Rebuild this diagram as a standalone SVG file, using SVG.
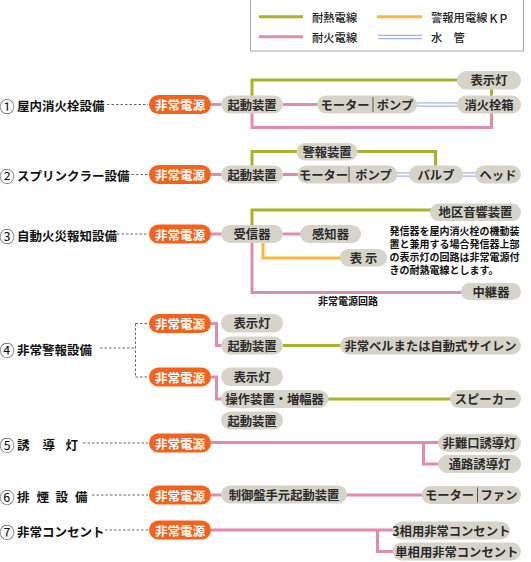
<svg xmlns="http://www.w3.org/2000/svg" width="531" height="562" viewBox="0 0 531 562">
<style>
text{font-family:"Noto Sans CJK JP","Noto Sans",sans-serif;dominant-baseline:central;fill:#2b2b2b}
.lbl{font-size:12.5px;font-weight:bold;fill:#111}
.cn{font-size:15px;font-weight:normal}
.nt{font-size:12.3px;font-weight:bold;text-anchor:middle}
.pt{font-size:12.5px;font-weight:bold;text-anchor:middle;fill:#fff}
.lg{font-size:11.3px;font-weight:500;fill:#222}
.note{font-size:10px;font-weight:bold;fill:#111}
.g{fill:#d6d4c8}
.o{fill:#f5621b}
.pk{fill:none;stroke:#e28bae;stroke-width:3}
.ol{fill:none;stroke:#a8b22b;stroke-width:3}
.or{fill:none;stroke:#fbb63c;stroke-width:3}
.wb{fill:none;stroke:#a5b4e6;stroke-width:4.5}
.ww{fill:none;stroke:#fff;stroke-width:2}
.ds{fill:none;stroke:#666;stroke-width:1;stroke-dasharray:2.5,2}
.dv{stroke:#555;stroke-width:1}
</style>

<g id="legend">
<rect x="250.5" y="-1" width="273" height="52" fill="#fff" stroke="#aaa" stroke-width="1"/>
<line x1="259" y1="16.7" x2="303" y2="16.7" class="ol"/>
<text x="312" y="17" class="lg">耐熱電線</text>
<line x1="377" y1="16.7" x2="422" y2="16.7" class="or"/>
<text x="431" y="17" class="lg">警報用電線<tspan font-size="12" letter-spacing="2" dx="2">KP</tspan></text>
<line x1="259" y1="36.7" x2="303" y2="36.7" class="pk"/>
<text x="312" y="37" class="lg">耐火電線</text>
<line x1="378" y1="37" x2="422" y2="37" class="wb"/>
<line x1="378" y1="37" x2="422" y2="37" class="ww"/>
<text x="431" y="37" class="lg">水　管</text>
</g>

<g id="connectors">
<!-- row1 -->
<path class="ds" d="M107 104.5H148"/>
<path class="pk" d="M211 104.5H222M283 104.5H318M252 113V127.5H491.5V113"/>
<path class="ol" d="M252 96V80H458M491.5 89V96"/>
<path class="wb" d="M417 104.5H458"/><path class="ww" d="M417 104.5H458"/>
<!-- row2 -->
<path class="ds" d="M118 174.5H148"/>
<path class="pk" d="M211 174.5H222M283 174.5H298"/>
<path class="ol" d="M252 166V151.5H297M357 151.5H435.5V166"/>
<path class="wb" d="M397 174.5H410M462 174.5H476"/><path class="ww" d="M397 174.5H410M462 174.5H476"/>
<!-- row3 -->
<path class="ds" d="M117 234H148"/>
<path class="pk" d="M211 234H222M283 234H301M252 243V292.5H462"/>
<path class="ol" d="M252 225V210H431"/>
<path class="or" d="M263 243V258H341"/>
<!-- row4 -->
<path class="ds" d="M100 348H135.5M135.5 323.5V377M135.5 323.5H148M135.5 377H148"/>
<path class="pk" d="M211 323.5H216.5V345.5H222M211 377H216.5V399H222"/>
<path class="ol" d="M283 345.5H341M328 399H451"/>
<!-- row5 -->
<path class="ds" d="M83 443H148"/>
<path class="pk" d="M211 442.5H439M423.5 442.5V464H439"/>
<!-- row6 -->
<path class="ds" d="M92 495H148"/>
<path class="pk" d="M211 495H222M346 495H423"/>
<!-- row7 -->
<path class="ds" d="M105 530H148"/>
<path class="pk" d="M211 530H393M377.5 530V551.5H393"/>
</g>

<g id="labels">
<text class="lbl" y="104.5"><tspan x="-0.5" class="cn">①</tspan><tspan x="17">屋内消火栓設備</tspan></text>
<text class="lbl" y="174.5"><tspan x="-0.5" class="cn">②</tspan><tspan x="17">スプリンクラー設備</tspan></text>
<text class="lbl" y="234.5"><tspan x="-0.5" class="cn">③</tspan><tspan x="17">自動火災報知設備</tspan></text>
<text class="lbl" y="348.5"><tspan x="-0.5" class="cn">④</tspan><tspan x="17">非常警報設備</tspan></text>
<text class="lbl" y="443.5"><tspan x="-0.5" class="cn">⑤</tspan><tspan x="17">誘</tspan><tspan x="42.5">導</tspan><tspan x="65.5">灯</tspan></text>
<text class="lbl" y="495.5"><tspan x="-0.5" class="cn">⑥</tspan><tspan x="17">排</tspan><tspan x="36.5">煙</tspan><tspan x="55.5">設</tspan><tspan x="75">備</tspan></text>
<text class="lbl" y="530.5"><tspan x="-0.5" class="cn">⑦</tspan><tspan x="17">非常コンセント</tspan></text>
</g>

<g id="power1"><rect class="o" x="149" y="95" width="62" height="19" rx="9.5"/><text class="pt" x="180" y="104.5">非常電源</text></g>
<g id="start1"><rect class="g" x="221" y="95.5" width="62" height="18" rx="9"/><text class="nt" x="252" y="104.5">起動装置</text></g>
<g id="motorpump1"><rect class="g" x="317" y="95.5" width="100" height="18" rx="9"/><line class="dv" x1="373" y1="97" x2="373" y2="112"/><text class="nt" x="345" y="104.5">モーター</text><text class="nt" x="395" y="104.5">ポンプ</text></g>
<g id="lamp1"><rect class="g" x="457" y="71" width="64" height="18.5" rx="9.25"/><text class="nt" x="489" y="80.2">表示灯</text></g>
<g id="hydrant1"><rect class="g" x="457" y="95.5" width="64" height="18" rx="9"/><text class="nt" x="489" y="104.5">消火栓箱</text></g>

<g id="power2"><rect class="o" x="149" y="165" width="62" height="19" rx="9.5"/><text class="pt" x="180" y="174.5">非常電源</text></g>
<g id="start2"><rect class="g" x="221" y="165.5" width="62" height="18" rx="9"/><text class="nt" x="252" y="174.5">起動装置</text></g>
<g id="alarm2"><rect class="g" x="296.5" y="143" width="61" height="17.5" rx="8.75"/><text class="nt" x="327" y="151.8">警報装置</text></g>
<g id="motorpump2"><rect class="g" x="297.5" y="165.5" width="100" height="18" rx="9"/><line class="dv" x1="349" y1="167" x2="349" y2="182"/><text class="nt" x="323.5" y="174.5">モーター</text><text class="nt" x="373.5" y="174.5">ポンプ</text></g>
<g id="valve2"><rect class="g" x="409" y="165.5" width="54" height="18" rx="9"/><text class="nt" x="436" y="174.5">バルブ</text></g>
<g id="head2"><rect class="g" x="475" y="165.5" width="46" height="18" rx="9"/><text class="nt" x="498" y="174.5">ヘッド</text></g>

<g id="power3"><rect class="o" x="149" y="224.5" width="62" height="19" rx="9.5"/><text class="pt" x="180" y="234">非常電源</text></g>
<g id="receiver3"><rect class="g" x="221" y="225" width="62" height="18" rx="9"/><text class="nt" x="252" y="234">受信器</text></g>
<g id="sensor3"><rect class="g" x="300" y="225" width="61" height="18" rx="9"/><text class="nt" x="330.5" y="234">感知器</text></g>
<g id="bell3"><rect class="g" x="430" y="203.5" width="91" height="17.5" rx="8.75"/><text class="nt" x="475.5" y="212.3">地区音響装置</text></g>
<g id="display3"><rect class="g" x="340" y="249" width="47" height="17.5" rx="8.75"/><text class="nt" x="363.5" y="257.8">表 示</text></g>
<g id="relay3"><rect class="g" x="461" y="283" width="60" height="17" rx="8.5"/><text class="nt" x="491" y="291.5">中継器</text></g>
<g id="note3">
<text class="note" x="389.5" y="230">発信器を屋内消火栓の機動装</text>
<text class="note" x="389.5" y="243.5">置と兼用する場合発信器上部</text>
<text class="note" x="389.5" y="256.5">の表示灯の回路は非常電源付</text>
<text class="note" x="389.5" y="269.5">きの耐熱電線とします。</text>
<text class="note" x="318" y="300.5">非常電源回路</text>
</g>

<g id="power4a"><rect class="o" x="149" y="314" width="62" height="19" rx="9.5"/><text class="pt" x="180" y="323.5">非常電源</text></g>
<g id="lamp4a"><rect class="g" x="221" y="314" width="62" height="18.5" rx="9.25"/><text class="nt" x="252" y="323.2">表示灯</text></g>
<g id="start4a"><rect class="g" x="221" y="336.5" width="62" height="18" rx="9"/><text class="nt" x="252" y="345.5">起動装置</text></g>
<g id="siren4"><rect class="g" x="340" y="336.5" width="181" height="18" rx="9"/><text class="nt" x="430.5" y="345.5">非常ベルまたは自動式サイレン</text></g>
<g id="power4b"><rect class="o" x="149" y="367.5" width="62" height="19" rx="9.5"/><text class="pt" x="180" y="377">非常電源</text></g>
<g id="lamp4b"><rect class="g" x="221" y="367.5" width="62" height="18.5" rx="9.25"/><text class="nt" x="252" y="376.7">表示灯</text></g>
<g id="amp4b"><rect class="g" x="221" y="390" width="107.5" height="18" rx="9"/><text class="nt" x="274.7" y="399">操作装置・増幅器</text></g>
<g id="speaker4"><rect class="g" x="450" y="390" width="71" height="18" rx="9"/><text class="nt" x="485.5" y="399">スピーカー</text></g>
<g id="start4b"><rect class="g" x="221" y="411.5" width="62" height="18" rx="9"/><text class="nt" x="252" y="420.5">起動装置</text></g>

<g id="power5"><rect class="o" x="149" y="433.5" width="62" height="19" rx="9.5"/><text class="pt" x="180" y="443">非常電源</text></g>
<g id="exit5"><rect class="g" x="438" y="434" width="83" height="18" rx="9"/><text class="nt" x="479.5" y="443">非難口誘導灯</text></g>
<g id="path5"><rect class="g" x="438" y="455" width="83" height="18" rx="9"/><text class="nt" x="479.5" y="464">通路誘導灯</text></g>

<g id="power6"><rect class="o" x="149" y="485.5" width="62" height="19" rx="9.5"/><text class="pt" x="180" y="495">非常電源</text></g>
<g id="panel6"><rect class="g" x="221" y="485.5" width="126" height="18" rx="9"/><text class="nt" x="284" y="494.5">制御盤手元起動装置</text></g>
<g id="motorfan6"><rect class="g" x="421.5" y="486" width="99.5" height="18" rx="9"/><line class="dv" x1="477.5" y1="487.5" x2="477.5" y2="502.5"/><text class="nt" x="449.5" y="495">モーター</text><text class="nt" x="499" y="495">ファン</text></g>

<g id="power7"><rect class="o" x="149" y="520.5" width="62" height="19" rx="9.5"/><text class="pt" x="180" y="530">非常電源</text></g>
<g id="outlet3p"><rect class="g" x="392.5" y="521.5" width="117.5" height="18" rx="9"/><text class="nt" x="451.3" y="530.5">3相用非常コンセント</text></g>
<g id="outlet1p"><rect class="g" x="392.5" y="542.5" width="128.5" height="18" rx="9"/><text class="nt" x="456.8" y="551.5">単相用非常コンセント</text></g>
</svg>
